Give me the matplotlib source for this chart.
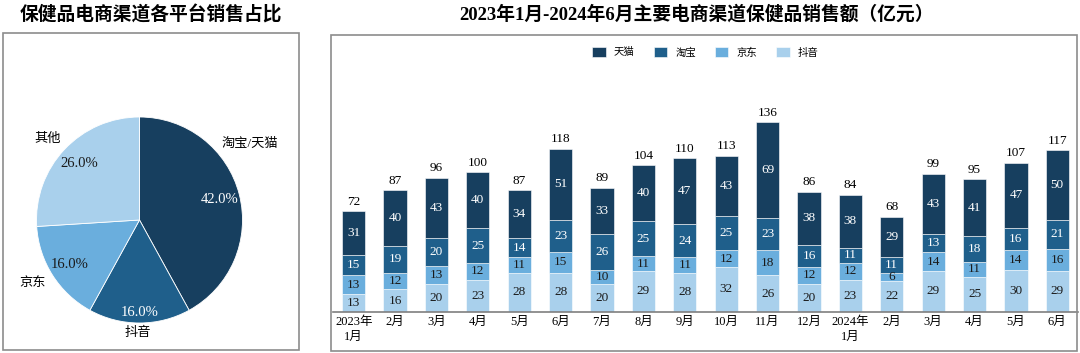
import matplotlib
matplotlib.use('Agg')
import matplotlib.pyplot as plt
import numpy as np
from matplotlib.patches import Rectangle

plt.rcParams['font.family'] = ['Liberation Serif', 'Noto Sans CJK SC', 'DejaVu Sans']

# 饼图数据
pieLabels = ['淘宝/天猫', '抖音', '京东', '其他']
pieShares = [42.0, 16.0, 16.0, 26.0]
pieColors = ['#173f5f', '#1f5f8b', '#6aaedd', '#a9d0ec']

# 柱状图数据
months = ['2023年\n1月', '2月', '3月', '4月', '5月', '6月', '7月', '8月', '9月',
          '10月', '11月', '12月', '2024年\n1月', '2月', '3月', '4月', '5月', '6月']
douyin = [13, 16, 20, 23, 28, 28, 20, 29, 28, 32, 26, 20, 23, 22, 29, 25, 30, 29]
jingdong = [13, 12, 13, 12, 11, 15, 10, 11, 11, 12, 18, 12, 12, 6, 14, 11, 14, 16]
taobao = [15, 19, 20, 25, 14, 23, 26, 25, 24, 25, 23, 16, 11, 11, 13, 18, 16, 21]
tmall = [31, 40, 43, 40, 34, 51, 33, 40, 47, 43, 69, 38, 38, 29, 43, 41, 47, 50]
totals = [72, 87, 96, 100, 87, 118, 89, 104, 110, 113, 136, 86, 84, 68, 99, 95, 107, 117]

W, H = 1080, 353
fig = plt.figure(figsize=(W / 100, H / 100), dpi=100)

def px(x0, y0, x1, y1):
    return [x0 / W, 1 - y1 / H, (x1 - x0) / W, (y1 - y0) / H]

# 外框
for x0, y0, x1, y1 in [(3, 33, 299, 350), (331, 35, 1077, 351)]:
    fig.patches.append(Rectangle((x0 / W, 1 - y1 / H), (x1 - x0) / W, (y1 - y0) / H,
                                 transform=fig.transFigure, fill=False,
                                 edgecolor='#8c8c8c', linewidth=1.2))

fig.text(151 / W, 1 - 15 / H, '保健品电商渠道各平台销售占比', ha='center', va='center',
         fontsize=13.5, fontweight='bold')
fig.text(697 / W, 1 - 14 / H, '2023年1月-2024年6月主要电商渠道保健品销售额（亿元）',
         ha='center', va='center', fontsize=13.5, fontweight='bold')

# 饼图
r = 103
cx, cy = 139.5, 220
axPie = fig.add_axes(px(cx - r, cy - r, cx + r, cy + r))
wedges, texts, autotexts = axPie.pie(pieShares, colors=pieColors, startangle=90,
                                     counterclock=False, autopct='%.1f%%', pctdistance=0.8,
                                     labels=pieLabels, labeldistance=1.2,
                                     wedgeprops=dict(edgecolor='white', linewidth=0.6),
                                     textprops=dict(fontsize=10))
axPie.set_xlim(-1, 1)
axPie.set_ylim(-1, 1)
axPie.set_aspect('equal')
labelPos = [(1.07, 0.74), (-0.02, -1.10), (-1.04, -0.61), (-0.89, 0.79)]
for t, pos in zip(texts, labelPos):
    t.set_position(pos)
    t.set_ha('center')
    t.set_va('center')
    t.set_fontsize(9.5)
for i, t in enumerate(autotexts):
    t.set_color('white' if i == 0 else '#1a1a1a')
    t.set_fontsize(10.5)
x, y = autotexts[1].get_position()
autotexts[1].set_position((x * 0.9 / 0.8, y * 0.9 / 0.8))
autotexts[1].set_color('white')

# 柱状图
ax = fig.add_axes(px(333, 40, 1078, 311.7))
idx = np.arange(len(months))
barW = 0.56
series = [('抖音', douyin, '#a9d0ec', '#1a1a1a'),
          ('京东', jingdong, '#6aaedd', '#1a1a1a'),
          ('淘宝', taobao, '#1f5f8b', 'white'),
          ('天猫', tmall, '#173f5f', 'white')]
bottom = np.zeros(len(months))
handles = {}
for name, vals, color, tcolor in series:
    bars = ax.bar(idx, vals, barW, bottom=bottom, color=color, label=name,
                  edgecolor='white', linewidth=0.4)
    ax.bar_label(bars, labels=[str(v) for v in vals], label_type='center',
                 color=tcolor, fontsize=9.5)
    handles[name] = bars
    bottom += np.array(vals)
for i, t in enumerate(totals):
    ax.text(idx[i], bottom[i] + 2.5, str(t), ha='center', va='bottom', fontsize=9.5)

ax.set_xlim(-0.5, len(months) - 0.5)
ax.set_ylim(0, 195)
ax.set_xticks(idx)
ax.set_xticklabels(months, fontsize=9, linespacing=1.3)
ax.tick_params(axis='x', length=0, pad=3)
ax.set_yticks([])
for s in ['top', 'right', 'left']:
    ax.spines[s].set_visible(False)
ax.spines['bottom'].set_color('#7f7f7f')
ax.spines['bottom'].set_linewidth(1.2)
ax.patch.set_alpha(0)

order = ['天猫', '淘宝', '京东', '抖音']
ax.legend([handles[n] for n in order], order, loc='center', bbox_to_anchor=(0.5, 0.955),
          ncol=4, frameon=False, fontsize=7.5, handlelength=1.3, handleheight=1.1,
          columnspacing=1.8, handletextpad=0.8)

fig.savefig('out.png', dpi=100)
